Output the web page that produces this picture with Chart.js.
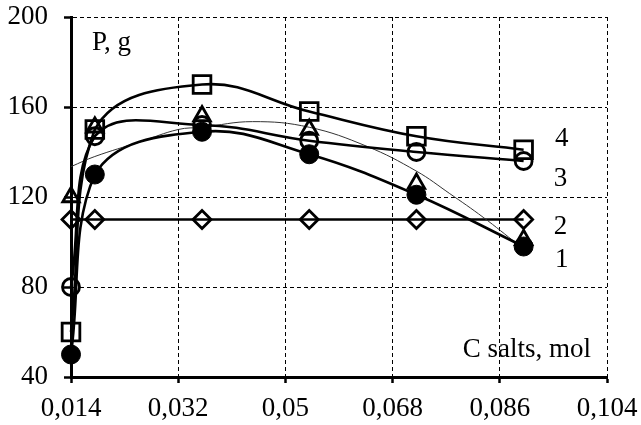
<!DOCTYPE html>
<html>
<head>
<meta charset="utf-8">
<script src="https://cdn.jsdelivr.net/npm/chart.js@4.4.1/dist/chart.umd.min.js"></script>
<style>
  html, body { margin: 0; padding: 0; background: #fff; }
  #wrap { width: 641px; height: 425px; }
</style>
</head>
<body>
<div id="wrap"><canvas id="chart" width="641" height="425"></canvas></div>
<script>
// Salt concentration, mol
const concentrations = [0.014, 0.018, 0.036, 0.054, 0.072, 0.090];
// P, g for each curve
const curve1 = [50, 130, 149, 139, 121, 98];     // filled circles
const curve2 = [110, 110, 110, 110, 110, 110];   // diamonds
const curve3 = [80, 147, 152, 145, 140, 136];    // open circles
const curve4 = [60, 150, 170, 158, 147, 141];    // squares
const triangleValues = [120, 151, 156, 150, 126, 101];
// thin trend curve through the triangle points
const trendX = [0.014, 0.018, 0.0256, 0.032, 0.036, 0.0445, 0.054, 0.0637, 0.072, 0.0776, 0.0832, 0.089];
const trendY = [133.5, 138, 144.5, 150, 151, 153.5, 151, 142.5, 131.5, 121.5, 111, 99];
// axis ticks
const xTicks = [0.014, 0.032, 0.05, 0.068, 0.086, 0.104];
const yTicks = [40, 80, 120, 160, 200];
const curveNames = ['1', '2', '3', '4'];

const FONT = 'Liberation Serif';
const HOLLOW = 'rgba(255,255,255,0)';
const pts = (xs, ys) => xs.map((x, i) => ({ x: x, y: ys[i] }));

const common = {
  borderColor: '#000',
  borderWidth: 2.6,
  pointBorderColor: '#000',
  pointBorderWidth: 2.8,
  clip: false
};

const textPlugin = {
  id: 'curveText',
  afterDraw(chart) {
    const { ctx, scales: { x, y } } = chart;
    ctx.save();
    ctx.fillStyle = '#000';
    ctx.font = '27px "' + FONT + '"';
    ctx.textBaseline = 'alphabetic';
    ctx.textAlign = 'left';
    ctx.fillText('P, g', x.left + 21, y.top + 33);
    ctx.textAlign = 'right';
    ctx.fillText('C salts, mol', x.right - 16, y.bottom - 20);
    // curve numbers to the right of the last points
    ctx.textAlign = 'center';
    const spots = [[0.0964, 92.9], [0.0962, 107.6], [0.0962, 128.9], [0.0964, 146.7]];
    curveNames.forEach((name, i) => {
      ctx.fillText(name, x.getPixelForValue(spots[i][0]), y.getPixelForValue(spots[i][1]) + 9);
    });
    ctx.restore();
  }
};

new Chart(document.getElementById('chart'), {
  type: 'line',
  data: {
    datasets: [
      Object.assign({}, common, {
        label: curveNames[0],
        data: pts(concentrations, curve1),
        tension: 0.4,
        pointStyle: 'circle',
        pointRadius: 9.5,
        pointBorderWidth: 1,
        pointBackgroundColor: '#000'
      }),
      Object.assign({}, common, {
        label: curveNames[2],
        data: pts(concentrations, curve3),
        tension: 0.4,
        pointStyle: 'circle',
        pointRadius: 8.5,
        pointBackgroundColor: HOLLOW
      }),
      Object.assign({}, common, {
        label: 'triangles',
        data: pts(concentrations, triangleValues),
        showLine: false,
        pointStyle: 'triangle',
        pointRadius: 9.5,
        pointBackgroundColor: HOLLOW
      }),
      {
        label: 'trend',
        data: pts(trendX, trendY),
        borderColor: '#333',
        borderWidth: 1,
        pointRadius: 0,
        tension: 0.4,
        clip: false
      },
      Object.assign({}, common, {
        label: curveNames[3],
        data: pts(concentrations, curve4),
        tension: 0.4,
        pointStyle: 'rect',
        pointRadius: 12.5,
        pointBackgroundColor: HOLLOW
      }),
      Object.assign({}, common, {
        label: curveNames[1],
        data: pts(concentrations, curve2),
        tension: 0,
        pointStyle: 'rectRot',
        pointRadius: 9,
        pointBackgroundColor: HOLLOW
      })
    ]
  },
  options: {
    responsive: false,
    animation: false,
    devicePixelRatio: 1,
    layout: { padding: { top: 17, right: 34, bottom: 0, left: 0 } },
    plugins: { legend: { display: false }, tooltip: { enabled: false } },
    scales: {
      x: {
        type: 'linear',
        min: xTicks[0],
        max: xTicks[xTicks.length - 1],
        afterBuildTicks: s => { s.ticks = xTicks.map(v => ({ value: v })); },
        afterFit: s => { s.height = 48; s.paddingLeft = 0; s.paddingRight = 0; },
        ticks: {
          callback: v => String(v).replace('.', ','),
          font: { family: FONT, size: 27 },
          color: '#000',
          padding: 10,
          maxRotation: 0,
          autoSkip: false
        },
        grid: { color: '#000', lineWidth: 1, tickLength: 6, tickWidth: 2.5, tickColor: '#000' },
        border: { color: '#000', width: 3, dash: [4, 3] }
      },
      y: {
        min: yTicks[0],
        max: yTicks[yTicks.length - 1],
        afterBuildTicks: s => { s.ticks = yTicks.map(v => ({ value: v })); },
        afterFit: s => { s.width = 71; s.paddingTop = 0; s.paddingBottom = 0; },
        ticks: {
          font: { family: FONT, size: 27 },
          color: '#000',
          padding: 16
        },
        grid: { color: '#000', lineWidth: 1, tickLength: 7, tickWidth: 2.5, tickColor: '#000' },
        border: { color: '#000', width: 3, dash: [4, 3] }
      }
    }
  },
  plugins: [textPlugin]
});
</script>
</body>
</html>
